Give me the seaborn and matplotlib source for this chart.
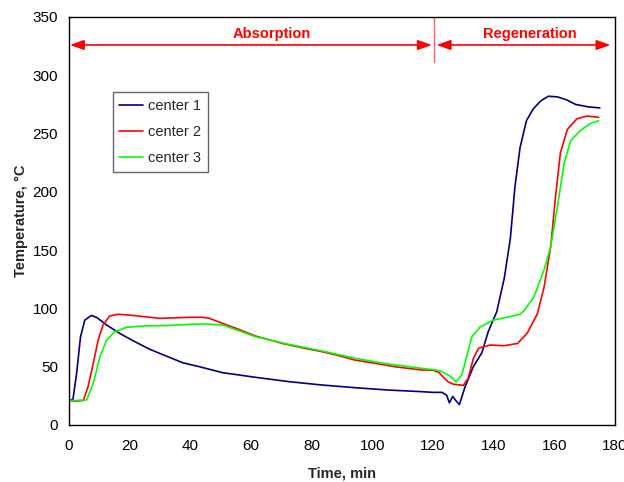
import numpy as np
import pandas as pd
import matplotlib
matplotlib.use("Agg")
import matplotlib.pyplot as plt
import seaborn as sns

# Thermocouple readings (time in min, temperature in degC)
t_center1 = [0, 1.3, 2.5, 3.8, 5.2, 7.4, 9.1, 12.4, 16.7, 21.1, 26.6, 32, 37.5, 43,
             50.6, 61.5, 72.5, 83.4, 94.3, 105.2, 116.2, 120, 123, 124.5, 125.4,
             126.5, 127.5, 128.7, 130.6, 133.3, 136.1, 138.2, 141, 143.5, 145.5,
             147, 148.7, 150.8, 153, 155.5, 158, 161, 164, 167, 171, 175]
T_center1 = [21, 22, 44, 75.7, 90, 94, 92.3, 85.8, 78.6, 72.3, 65, 59.2, 53.4, 50,
             44.9, 40.9, 37.2, 34.3, 32, 30, 28.6, 28, 28, 25.5, 19,
             24.5, 21, 17.5, 33, 50, 62, 80, 97, 126, 160,
             204, 238, 261, 271, 278, 282, 281.5, 279, 275, 273, 272]

t_center2 = [0, 2, 4.7, 6.3, 8, 9.6, 11.2, 13.4, 16.2, 21.1, 29.8, 40, 44, 46.2,
             50.6, 56, 61.5, 70.3, 77.9, 83.4, 88.9, 94.3, 100.9, 107.4, 116.2,
             120, 122, 123.4, 125, 126.7, 128.5, 130, 131.6, 133.3, 135, 138.8,
             143.5, 147.9, 151, 154.4, 156.6, 158.8, 160.4, 162, 164.3, 167.5,
             170.8, 174.6]
T_center2 = [21, 20.5, 21, 33, 53, 72.7, 85.8, 93.5, 95, 94, 91.5, 92.4, 92.4, 91.6,
             87.2, 82, 76.3, 70, 65.7, 62.9, 59.5, 55.7, 52.9, 50, 47.2,
             47, 45, 41, 37, 35, 34.5, 34, 40, 57, 65.8, 68.6,
             68, 70, 78.6, 95.3, 118, 153, 196, 233.6, 253.6, 262.8,
             265, 264]

t_center3 = [0, 2, 5.8, 8, 10.2, 12.4, 15.1, 18.9, 24.9, 32.5, 40.8, 45.1, 50.6,
             56, 61.5, 72.5, 83.4, 94.3, 105.2, 116.2, 120, 122.3, 125.6, 127.6,
             129.5, 131.1, 132.8, 135.5, 139.9, 145.4, 148.7, 150, 153.3, 156.6,
             158.8, 161, 163.2, 165.4, 168.6, 171.9, 174.6]
T_center3 = [21, 21, 21.5, 35.7, 58.6, 72.7, 80, 83.8, 85, 85.3, 86.5, 86.6, 85.8,
             80.9, 75.7, 69.2, 63.5, 57.2, 52.3, 48.6, 47.5, 46.5, 42, 37,
             43, 58.6, 75.7, 84, 90, 93, 95, 98, 110, 133,
             153, 187, 224, 244, 252.6, 258.7, 261]

series_names = ["center 1", "center 2", "center 3"]
series_colors = ["#000080", "#FF0000", "#00FF00"]
x_ticks = [0, 20, 40, 60, 80, 100, 120, 140, 160, 180]
y_ticks = [0, 50, 100, 150, 200, 250, 300, 350]

frames = []
for name, t, T in zip(series_names,
                      [t_center1, t_center2, t_center3],
                      [T_center1, T_center2, T_center3]):
    frames.append(pd.DataFrame({"Time": t, "Temperature": T, "Location": name}))
df = pd.concat(frames, ignore_index=True)

sns.set_theme(style="white")
plt.rcParams["font.family"] = ["Liberation Sans", "DejaVu Sans"]

fig = plt.figure(figsize=(6.24, 4.82), dpi=100)
ax = fig.add_axes([69 / 624, 1 - 425 / 482, (615 - 69) / 624, (425 - 17) / 482])

sns.lineplot(data=df, x="Time", y="Temperature", hue="Location",
             palette=dict(zip(series_names, series_colors)),
             linewidth=1.2, ax=ax, sort=False, estimator=None)

ax.set_xlim(0, 180)
ax.set_ylim(0, 350)
ax.set_xticks(x_ticks)
ax.set_yticks(y_ticks)
ax.tick_params(direction="in", length=4, width=0.8, colors="black",
               labelsize=11, pad=8)
ax.tick_params(axis="x", pad=10)
for s in ax.spines.values():
    s.set_color("black")
    s.set_linewidth(1.0)

ax.set_xlabel("Time, min", fontsize=10.5, fontweight="bold", labelpad=10)
ax.set_ylabel("Temperature, °C", fontsize=10.5, fontweight="bold", labelpad=3)

# Phase markers
arrow_kw = dict(arrowstyle="<|-|>,head_length=0.7,head_width=0.25",
                color="red", lw=1.2, shrinkA=0, shrinkB=0)
ax.annotate("", xy=(0.3, 326), xytext=(119.6, 326), arrowprops=arrow_kw)
ax.annotate("", xy=(121.2, 326), xytext=(178.5, 326), arrowprops=arrow_kw)
ax.plot([120.4, 120.4], [311, 350], color="#FF6060", lw=1.0)
ax.text(67, 329, "Absorption", color="red", fontsize=10.5, fontweight="bold",
        ha="center", va="bottom")
ax.text(152, 329, "Regeneration", color="red", fontsize=10.5, fontweight="bold",
        ha="center", va="bottom")

leg = ax.legend(title=None, loc="upper left", bbox_to_anchor=(0.08, 0.816),
                frameon=True, fancybox=False, edgecolor="#404040",
                fontsize=10.5, handlelength=1.6, handletextpad=0.4,
                borderpad=0.45, labelspacing=0.85, borderaxespad=0)
leg.get_frame().set_linewidth(1.0)
for line in leg.get_lines():
    line.set_linewidth(1.2)

fig.savefig("out.png", dpi=100)
